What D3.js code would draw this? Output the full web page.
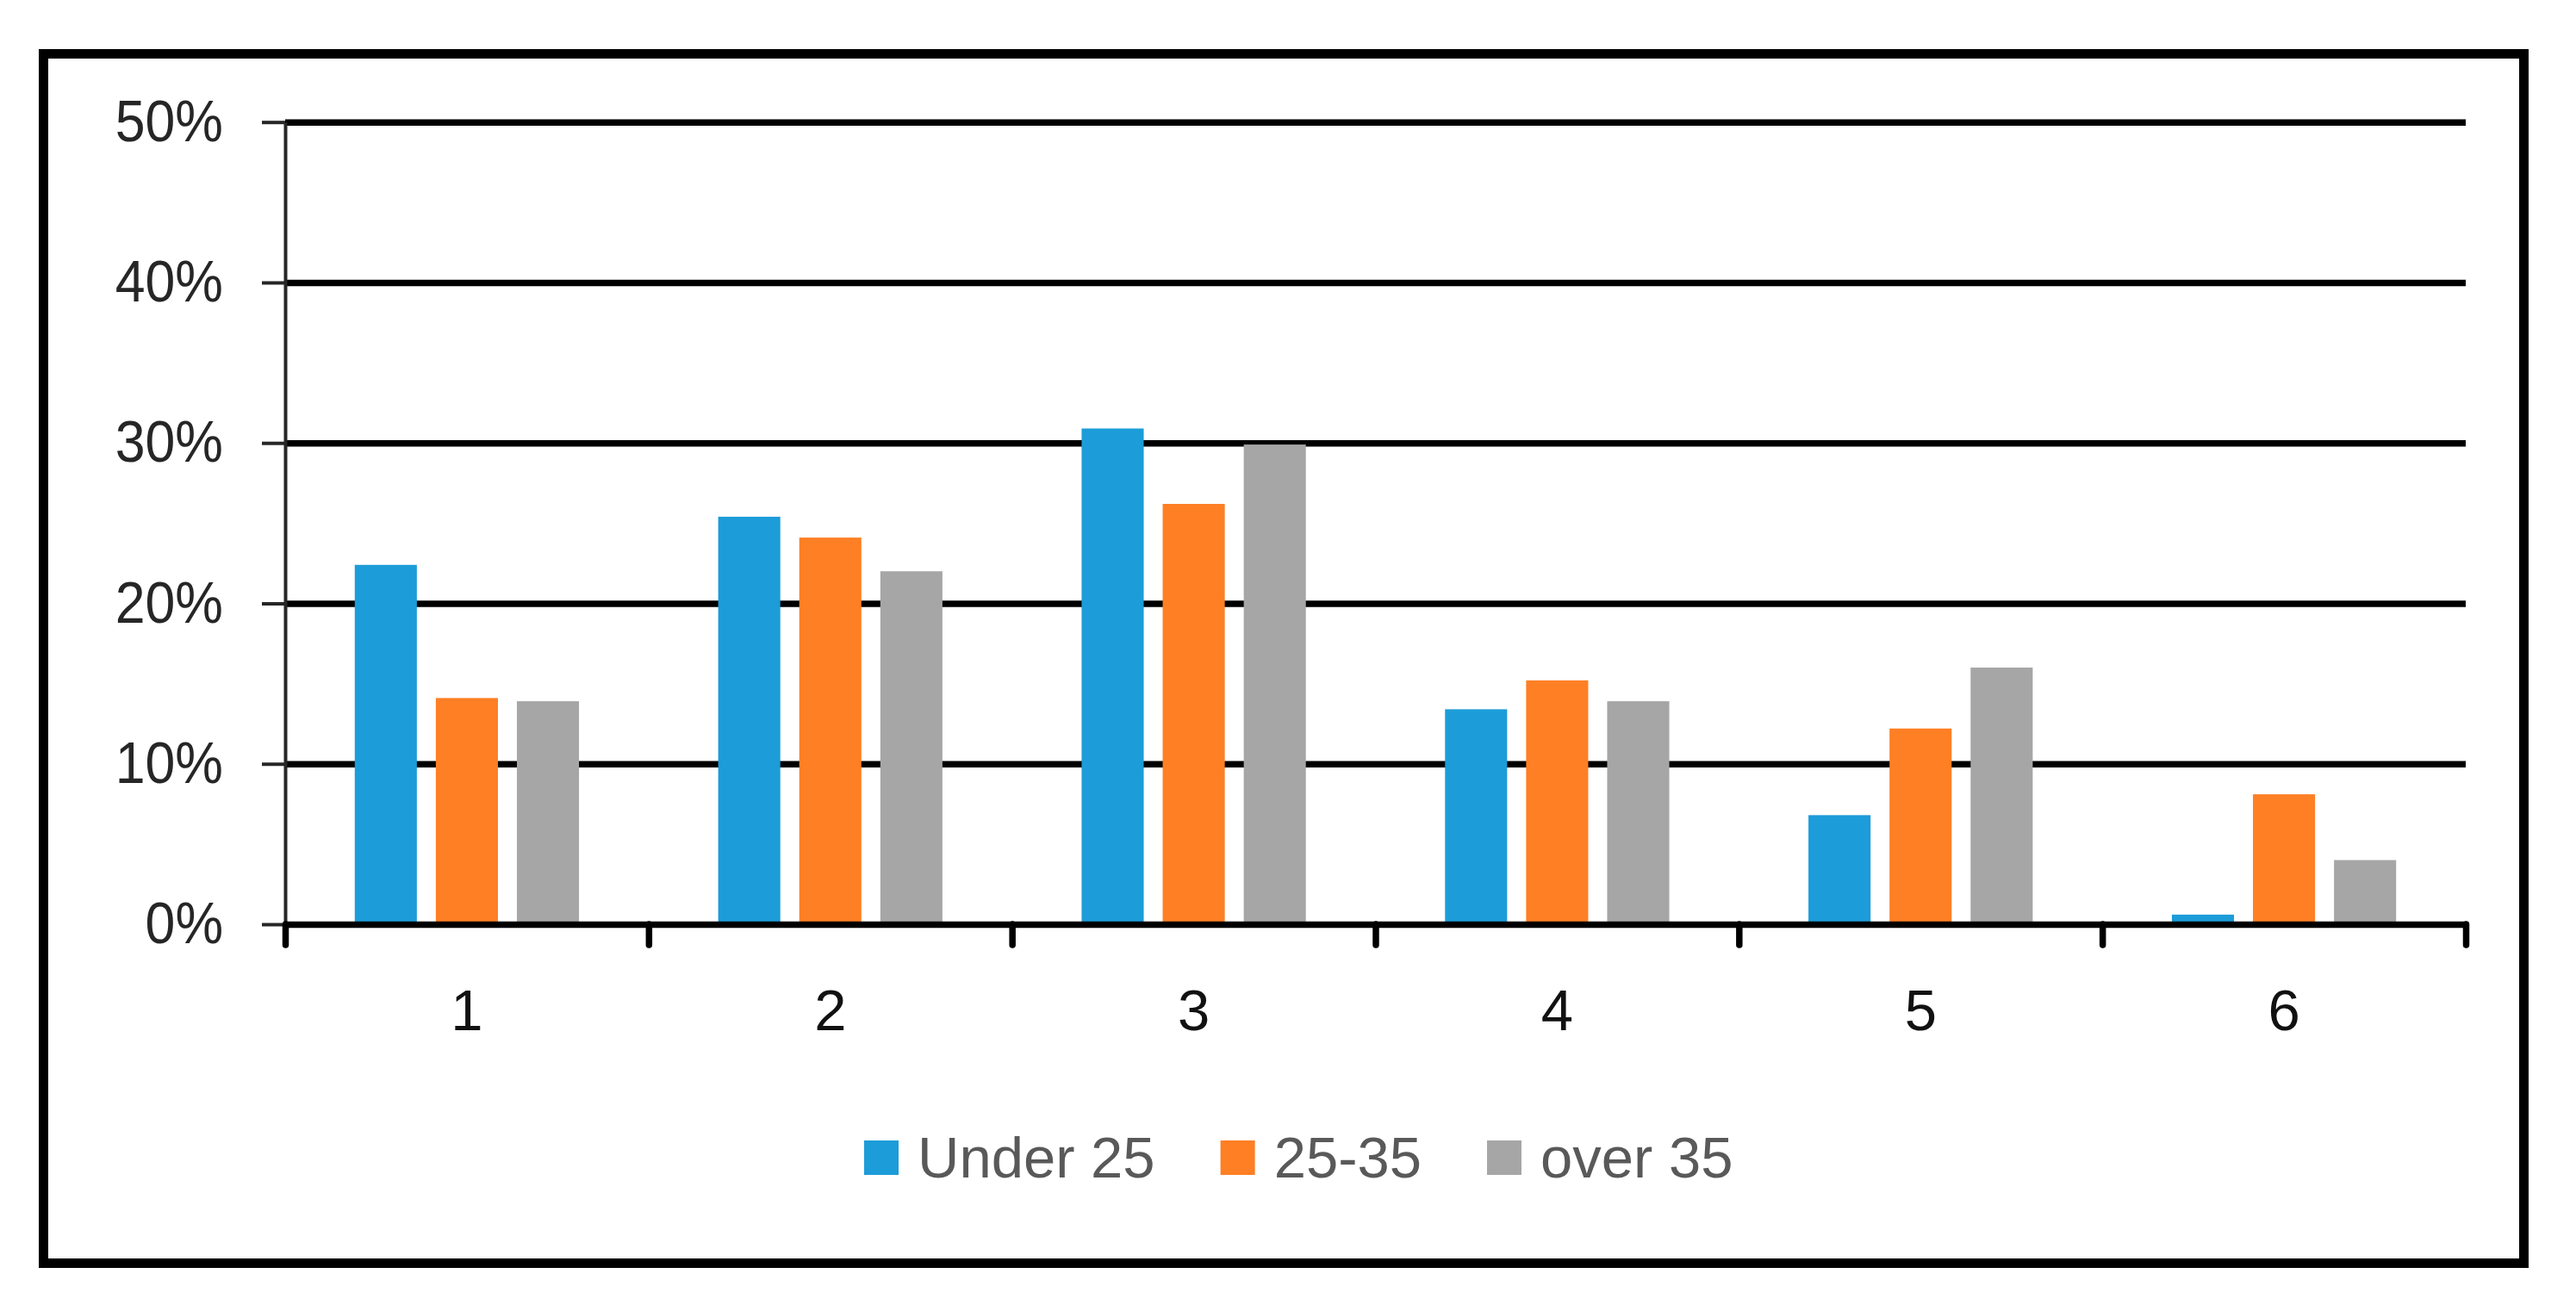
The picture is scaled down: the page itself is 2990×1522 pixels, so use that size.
<!DOCTYPE html>
<html>
<head>
<meta charset="utf-8">
<script src="https://cdn.jsdelivr.net/npm/d3@7"></script>
<style>
  html, body { margin: 0; padding: 0; background: #ffffff; }
  svg { display: block; }
</style>
</head>
<body>
<script>
// ---- DATA ----
const categories = ["1", "2", "3", "4", "5", "6"];
const seriesNames = ["Under 25", "25-35", "over 35"];
const under25 = [0.224, 0.254, 0.309, 0.134, 0.068, 0.006];
const age25to35 = [0.141, 0.241, 0.262, 0.152, 0.122, 0.081];
const over35 = [0.139, 0.220, 0.299, 0.139, 0.160, 0.040];
const yTicks = [0, 0.1, 0.2, 0.3, 0.4, 0.5];
const seriesColors = ["#1C9CD8", "#FE7F24", "#A6A6A6"];

const seriesValues = [under25, age25to35, over35];

// ---- LAYOUT ----
const W = 2990, H = 1522;
const plot = { left: 331, right: 2862, top: 141.7, bottom: 1073 };
const FONT = "'Liberation Sans', Arial, sans-serif";

const svg = d3.select("body").append("svg")
  .attr("width", W).attr("height", H);

svg.append("rect").attr("width", W).attr("height", H).attr("fill", "#fff");

// outer frame
svg.append("rect")
  .attr("x", 50.5).attr("y", 62.5)
  .attr("width", 2879).attr("height", 1404)
  .attr("fill", "none").attr("stroke", "#000").attr("stroke-width", 11);

// scales
const y = d3.scaleLinear().domain([0, 0.5]).range([plot.bottom, plot.top]);
const x0 = d3.scaleBand().domain(categories).range([plot.left, plot.right]).padding(0);
const groupW = x0.bandwidth() * 0.617;
const x1 = d3.scaleBand().domain(seriesNames)
  .range([(x0.bandwidth() - groupW) / 2, (x0.bandwidth() + groupW) / 2])
  .paddingInner(0.234).paddingOuter(0);
const color = d3.scaleOrdinal().domain(seriesNames).range(seriesColors);

// gridlines
svg.append("g")
  .attr("transform", `translate(${plot.left},0)`)
  .call(d3.axisLeft(y).tickValues(yTicks.filter(d => d > 0))
    .tickSize(-(plot.right - plot.left)).tickFormat(""))
  .call(g => g.select(".domain").remove())
  .call(g => g.selectAll(".tick line").attr("stroke", "#000").attr("stroke-width", 7.5));

// bars
const rows = categories.map((c, i) => ({ cat: c, vals: seriesNames.map((s, j) => ({ s, v: seriesValues[j][i] })) }));
svg.append("g").selectAll("g").data(rows).join("g")
  .attr("transform", d => `translate(${x0(d.cat)},0)`)
  .selectAll("rect").data(d => d.vals).join("rect")
  .attr("x", d => x1(d.s))
  .attr("width", x1.bandwidth())
  .attr("y", d => y(d.v))
  .attr("height", d => y(0) - y(d.v))
  .attr("fill", d => color(d.s));

// y axis
svg.append("g")
  .attr("transform", `translate(${plot.left},0)`)
  .call(d3.axisLeft(y).tickValues(yTicks).tickFormat(d3.format(".0%"))
    .tickSize(27).tickPadding(45).tickSizeOuter(0))
  .call(g => g.select(".domain").attr("stroke", "#262626").attr("stroke-width", 4))
  .call(g => g.selectAll(".tick line").attr("stroke", "#262626").attr("stroke-width", 4))
  .call(g => g.selectAll(".tick text")
    .attr("font-family", FONT).attr("font-size", 68).attr("fill", "#262626")
    .attr("textLength", function () { return this.getComputedTextLength() * 0.92; })
    .attr("lengthAdjust", "spacingAndGlyphs"));

// x axis: boundary ticks + domain line
const xb = d3.scaleLinear().domain([0, categories.length]).range([plot.left, plot.right]);
svg.append("g")
  .attr("transform", `translate(0,${plot.bottom})`)
  .call(d3.axisBottom(xb).ticks(categories.length).tickSize(24).tickSizeOuter(0).tickFormat(""))
  .call(g => g.select(".domain").attr("stroke", "#000").attr("stroke-width", 7.5))
  .call(g => g.selectAll(".tick line").attr("stroke", "#000").attr("stroke-width", 7.5)
    .attr("stroke-linecap", "round"));

// x labels
svg.append("g")
  .attr("transform", `translate(0,${plot.bottom})`)
  .call(d3.axisBottom(x0).tickSize(0).tickPadding(75))
  .call(g => g.select(".domain").remove())
  .call(g => g.selectAll(".tick text")
    .attr("font-family", FONT).attr("font-size", 67).attr("fill", "#111"));

// legend
const legend = svg.append("g").attr("transform", "translate(1003,1324)");
let lx = 0;
seriesNames.forEach((s, i) => {
  const item = legend.append("g").attr("transform", `translate(${lx},0)`);
  item.append("rect").attr("width", 40).attr("height", 40).attr("fill", color(s));
  const t = item.append("text").attr("x", 62).attr("y", 43)
    .attr("font-family", FONT).attr("font-size", 67).attr("fill", "#595959").text(s);
  lx += 62 + t.node().getComputedTextLength() + 76;
});
</script>
</body>
</html>
